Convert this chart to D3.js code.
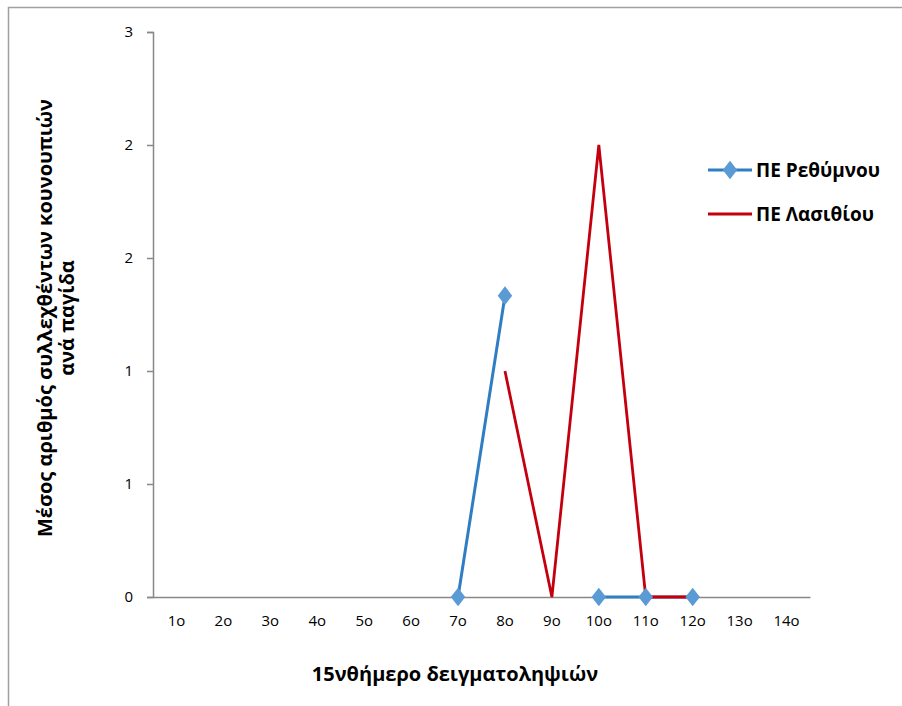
<!DOCTYPE html>
<html lang="el">
<head>
<meta charset="utf-8">
<script src="https://cdn.jsdelivr.net/npm/d3@7"></script>
<style>
    body { margin: 0; background: #fff; }
    svg text { font-family: "Open Sans", "Noto Sans", sans-serif; fill: #000; }
</style>
</head>
<body>
<div id="chart"></div>
<script>
    const categories = ['1o', '2o', '3o', '4o', '5o', '6o', '7o', '8o', '9o', '10o', '11o', '12o', '13o', '14o'];
    const rethymno = [null, null, null, null, null, null, 0, 1.6, null, 0, 0, 0, null, null];
    const lasithi = [null, null, null, null, null, null, null, 1.2, 0, 2.4, 0, 0, null, null];
    const yTicks = [0, 0.6, 1.2, 1.8, 2.4, 3];
    const seriesNames = ['ΠΕ Ρεθύμνου', 'ΠΕ Λασιθίου'];
    const yTitle = ['Μέσος αριθμός συλλεχθέντων κουνουπιών', 'ανά παγίδα'];
    const xTitle = '15νθήμερο δειγματοληψιών';

    const width = 902, height = 706;
    const blue = '#2f7ec4', blueMark = '#5b9bd5', red = '#c4000f';

    const svg = d3.select('#chart').append('svg')
        .attr('width', width).attr('height', height);

    // outer frame
    svg.append('rect')
        .attr('x', 8.5).attr('y', 7.5)
        .attr('width', width + 10).attr('height', height + 10)
        .attr('fill', 'none').attr('stroke', '#a0a0a0').attr('stroke-width', 1.5);

    const x = d3.scaleBand().domain(categories).range([153, 810]);
    const y = d3.scaleLinear().domain([0, 3]).range([597, 32]);

    // y axis
    const yAxis = svg.append('g')
        .attr('transform', 'translate(153,0)')
        .call(d3.axisLeft(y).tickValues(yTicks).tickSize(6).tickPadding(14)
            .tickFormat(d => d3.format('.0f')(Math.round(d))));
    yAxis.select('.domain').attr('stroke', '#888').attr('stroke-width', 1.5);
    yAxis.selectAll('.tick line').attr('stroke', '#888').attr('stroke-width', 1.5);
    yAxis.selectAll('.tick text').attr('font-size', 15);

    // x axis
    const xAxis = svg.append('g')
        .attr('transform', 'translate(0,597)')
        .call(d3.axisBottom(x).tickSize(0).tickPadding(18));
    xAxis.select('.domain').attr('stroke', '#888').attr('stroke-width', 1.5);
    xAxis.selectAll('.tick text').attr('font-size', 15);

    const cx = d => x(d) + x.bandwidth() / 2;

    const line = d3.line()
        .defined(d => d.v !== null)
        .x(d => cx(d.c))
        .y(d => y(d.v));

    const toPts = vals => categories.map((c, i) => ({c, v: vals[i]}));

    svg.append('path')
        .datum(toPts(rethymno))
        .attr('d', line)
        .attr('fill', 'none').attr('stroke', blue).attr('stroke-width', 3);

    svg.append('path')
        .datum(toPts(lasithi))
        .attr('d', line)
        .attr('fill', 'none').attr('stroke', red).attr('stroke-width', 2.8);

    const diamond = d3.symbol().type(d3.symbolDiamond).size(100);
    svg.append('g').selectAll('path')
        .data(toPts(rethymno).filter(d => d.v !== null))
        .join('path')
        .attr('d', diamond)
        .attr('transform', d => `translate(${cx(d.c)},${y(d.v)}) scale(1.35,1)`)
        .attr('fill', blueMark);

    // axis titles
    const yt = svg.append('text')
        .attr('transform', 'translate(52,318) rotate(-90)')
        .attr('text-anchor', 'middle')
        .attr('font-size', 20).attr('font-weight', 'bold');
    yt.selectAll('tspan').data(yTitle).join('tspan')
        .attr('x', 0).attr('dy', (d, i) => i === 0 ? 0 : 22)
        .text(d => d);

    svg.append('text')
        .attr('x', 455).attr('y', 681)
        .attr('text-anchor', 'middle')
        .attr('font-size', 20).attr('font-weight', 'bold')
        .text(xTitle);

    // legend
    const legend = svg.append('g').attr('transform', 'translate(708,170)');
    const legColors = [blue, red];
    seriesNames.forEach((name, i) => {
        const g = legend.append('g').attr('transform', `translate(0,${i * 44})`);
        g.append('line').attr('x1', 0).attr('x2', 44)
            .attr('stroke', legColors[i]).attr('stroke-width', 3);
        if (i === 0) {
            g.append('path').attr('d', diamond)
                .attr('transform', 'translate(22,0) scale(1.35,1)')
                .attr('fill', blueMark);
        }
        g.append('text').attr('x', 48).attr('dy', '0.35em')
            .attr('font-size', 19).attr('font-weight', 'bold')
            .text(name);
    });
</script>
</body>
</html>
